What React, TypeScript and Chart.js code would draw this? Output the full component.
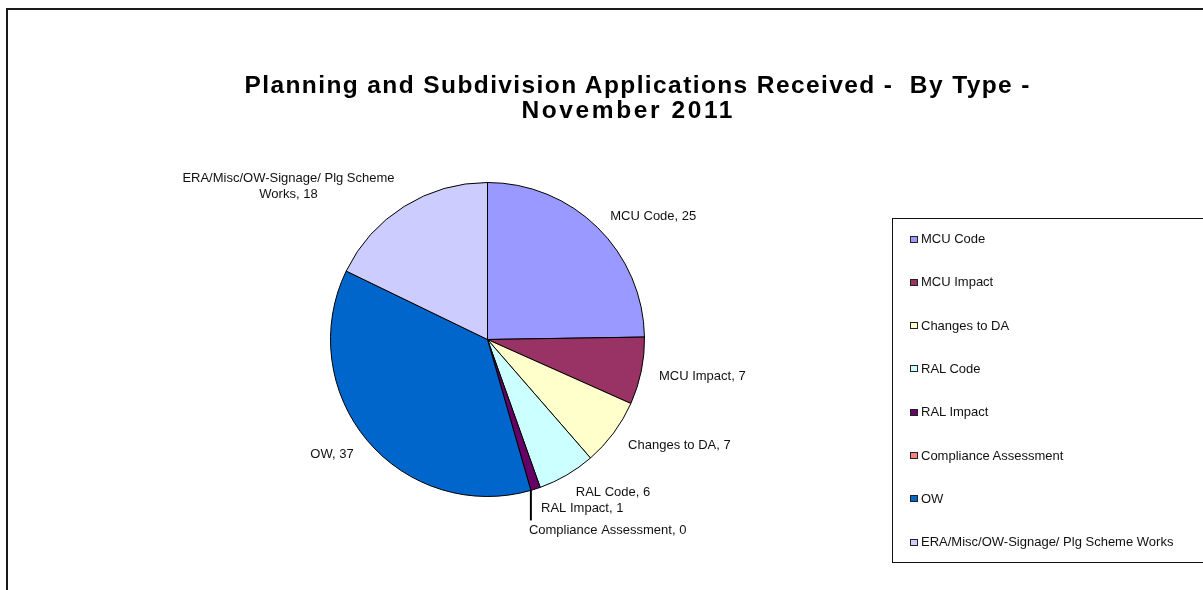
import React, { useEffect, useRef } from "react";
import { Chart, registerables } from "chart.js";

Chart.register(...registerables);

const categories = [
  "MCU Code",
  "MCU Impact",
  "Changes to DA",
  "RAL Code",
  "RAL Impact",
  "Compliance Assessment",
  "OW",
  "ERA/Misc/OW-Signage/ Plg Scheme Works",
];
const values = [25, 7, 7, 6, 1, 0, 37, 18];
const colors = ["#9999FF", "#993366", "#FFFFCC", "#CCFFFF", "#660066", "#FF8080", "#0066CC", "#CCCCFF"];
const titleLines = ["Planning and Subdivision Applications Received -  By Type -", "November 2011"];

const FONT = '"Liberation Sans", Arial, sans-serif';

const labelPlugin = {
  id: "sliceLabels",
  afterDatasetsDraw(chart: any) {
    const ctx = chart.ctx as CanvasRenderingContext2D;
    const meta = chart.getDatasetMeta(0);
    ctx.save();
    ctx.font = `13px ${FONT}`;
    ctx.fillStyle = "#111";
    ctx.textBaseline = "middle";
    meta.data.forEach((arc: any, i: number) => {
      const { x, y, startAngle, endAngle, outerRadius } = arc.getProps(
        ["x", "y", "startAngle", "endAngle", "outerRadius"],
        true
      );
      const mid = (startAngle + endAngle) / 2;
      const dx = Math.cos(mid);
      const dy = Math.sin(mid);
      const text = `${categories[i]}, ${values[i]}`;
      if (values[i] === 0) {
        const ex = x + dx * outerRadius;
        const ey = y + dy * outerRadius;
        ctx.strokeStyle = "#000";
        ctx.lineWidth = 2;
        ctx.beginPath();
        ctx.moveTo(ex, ey);
        ctx.lineTo(ex, ey + 30);
        ctx.stroke();
        ctx.textAlign = "left";
        ctx.fillText(text, ex - 2, ey + 40);
        return;
      }
      const px = x + dx * (outerRadius + 18);
      const py = y + dy * (outerRadius + 18) + 2;
      const maxW = 225;
      const words = text.split(" ");
      const lines: string[] = [];
      let cur = "";
      for (const w of words) {
        const t = cur ? cur + " " + w : w;
        if (cur && ctx.measureText(t).width > maxW) {
          lines.push(cur);
          cur = w;
        } else cur = t;
      }
      lines.push(cur);
      const boxW = Math.max(...lines.map((l) => ctx.measureText(l).width));
      const left = dx >= 0 ? px : px - boxW;
      const lh = 16;
      const extra = ((lines.length - 1) * lh) / 2;
      const top = py - extra + dy * extra;
      ctx.textAlign = "center";
      lines.forEach((l, k) => ctx.fillText(l, left + boxW / 2, top + k * lh));
    });
    ctx.restore();
  },
};

export default function App() {
  const canvasRef = useRef<HTMLCanvasElement | null>(null);

  useEffect(() => {
    document.body.style.margin = "0";
    const chart = new Chart(canvasRef.current as HTMLCanvasElement, {
      type: "pie",
      data: {
        labels: categories,
        datasets: [
          {
            data: values,
            backgroundColor: colors,
            borderColor: "#000",
            borderWidth: 1,
          },
        ],
      },
      options: {
        responsive: false,
        animation: false,
        layout: { padding: { left: 330, right: 558, top: 182, bottom: 93 } },
        plugins: {
          legend: { display: false },
          title: { display: false },
          tooltip: { enabled: false },
        },
      },
      plugins: [labelPlugin],
    });
    return () => chart.destroy();
  }, []);

  const legendTop = 218;
  const itemStep = 43.3;
  const firstCenter = 239;
  const titleSpacing = [1.4, 2.6];
  const titleCenters = [637, 627];

  return (
    <div
      style={{
        position: "fixed",
        left: 0,
        top: 0,
        width: 1203,
        height: 590,
        overflow: "hidden",
        background: "#fff",
        fontFamily: FONT,
      }}
    >
      {/* outer frame */}
      <div
        style={{
          position: "absolute",
          left: 6,
          top: 8,
          width: 1300,
          height: 700,
          borderTop: "2px solid #1a1a1a",
          borderLeft: "2px solid #1a1a1a",
        }}
      />
      <canvas
        ref={canvasRef}
        width={1203}
        height={590}
        style={{ position: "absolute", left: 0, top: 0, width: 1203, height: 590 }}
      />
      {/* title */}
      {titleLines.map((t, i) => (
        <div
          key={i}
          style={{
            position: "absolute",
            left: titleCenters[i] - 500 + titleSpacing[i] / 2,
            width: 1000,
            top: 71 + i * 25,
            textAlign: "center",
            fontWeight: "bold",
            fontSize: 24.5,
            lineHeight: "28px",
            letterSpacing: titleSpacing[i],
            color: "#000",
            whiteSpace: "pre",
          }}
        >
          {t}
        </div>
      ))}
      {/* legend */}
      <div
        style={{
          position: "absolute",
          left: 892,
          top: legendTop,
          width: 340,
          height: 563 - legendTop,
          boxSizing: "border-box",
          border: "1.5px solid #111",
        }}
      />
      {categories.map((c, i) => {
        const cy = firstCenter + i * itemStep;
        return (
          <React.Fragment key={c}>
            <div
              style={{
                position: "absolute",
                left: 910,
                top: cy - 3.5,
                width: 8,
                height: 7,
                boxSizing: "border-box",
                border: "1px solid #222",
                background: colors[i],
              }}
            />
            <div
              style={{
                position: "absolute",
                left: 921,
                top: cy - 8,
                fontSize: 13,
                lineHeight: "16px",
                color: "#111",
                whiteSpace: "pre",
              }}
            >
              {c}
            </div>
          </React.Fragment>
        );
      })}
    </div>
  );
}
